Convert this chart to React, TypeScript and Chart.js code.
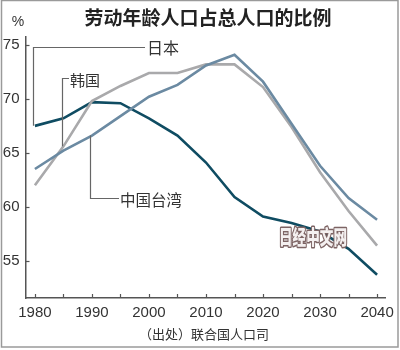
import React, { useEffect, useRef } from "react";
import { Chart, registerables } from "chart.js";

Chart.register(...registerables);

const years = [1980, 1985, 1990, 1995, 2000, 2005, 2010, 2015, 2020, 2025, 2030, 2035, 2040];
const japan = [67.5, 68.2, 69.7, 69.6, 68.2, 66.6, 64.1, 60.9, 59.1, 58.5, 57.7, 56.1, 53.7];
const korea = [62.0, 65.6, 69.8, 71.2, 72.4, 72.4, 73.2, 73.2, 71.1, 67.4, 63.2, 59.6, 56.4];
const taiwan = [63.5, 65.2, 66.6, 68.4, 70.2, 71.3, 73.1, 74.1, 71.6, 67.7, 63.8, 60.8, 58.8];
const yTicks = [55, 60, 65, 70, 75];
const xLabels = [1980, 1990, 2000, 2010, 2020, 2030, 2040];

const title = "劳动年龄人口占总人口的比例";
const source = "（出处）联合国人口司";
const watermark = "日经中文网";
const labelJapan = "日本";
const labelKorea = "韩国";
const labelTaiwan = "中国台湾";

const NUM_FONT = "'Liberation Sans Narrow', 'Liberation Sans', sans-serif";
const CJK_FONT = "'Noto Sans CJK SC', sans-serif";

const overlay = {
  id: "overlay",
  afterDatasetsDraw(chart: any) {
    const { ctx, scales } = chart;
    const x = scales.x;
    const y = scales.y;
    const area = chart.chartArea;
    ctx.save();
    // axis ticks (inward)
    ctx.strokeStyle = "#555";
    ctx.lineWidth = 1.2;
    for (let yr = 1980; yr <= 2040; yr += 5) {
      const px = Math.round(x.getPixelForValue(yr)) + 0.5;
      ctx.beginPath();
      ctx.moveTo(px, area.bottom);
      ctx.lineTo(px, area.bottom - 4);
      ctx.stroke();
    }
    yTicks.forEach((v) => {
      const py = Math.round(y.getPixelForValue(v)) + 0.5;
      ctx.beginPath();
      ctx.moveTo(area.left, py);
      ctx.lineTo(area.left + 4, py);
      ctx.stroke();
    });

    // annotation leader lines
    ctx.strokeStyle = "#666";
    ctx.lineWidth = 1.2;
    const jx = Math.round(x.getPixelForValue(years[0]) - 1.5) + 0.5;
    const jy = y.getPixelForValue(japan[0]);
    ctx.beginPath();
    ctx.moveTo(jx, jy);
    ctx.lineTo(jx, 47.5);
    ctx.lineTo(145, 47.5);
    ctx.stroke();

    const kx = Math.round(x.getPixelForValue(years[1]) - 1.5) + 0.5;
    const ky = y.getPixelForValue(korea[1]);
    ctx.beginPath();
    ctx.moveTo(kx, ky);
    ctx.lineTo(kx, 78.5);
    ctx.lineTo(69, 78.5);
    ctx.stroke();

    const tx = Math.round(x.getPixelForValue(years[2]) - 1.5) + 0.5;
    const ty = y.getPixelForValue(taiwan[2]);
    ctx.beginPath();
    ctx.moveTo(tx, ty);
    ctx.lineTo(tx, 198.5);
    ctx.lineTo(119, 198.5);
    ctx.stroke();

    ctx.fillStyle = "#333";
    ctx.textBaseline = "middle";
    ctx.textAlign = "left";
    ctx.font = `16px ${CJK_FONT}`;
    ctx.fillText(labelJapan, 147, 48);
    ctx.font = `15px ${CJK_FONT}`;
    ctx.fillText(labelKorea, 70, 80);
    ctx.font = `15.5px ${CJK_FONT}`;
    ctx.fillText(labelTaiwan, 120, 200);
    ctx.restore();
  },
  afterDraw(chart: any) {
    const { ctx } = chart;
    ctx.save();
    // title
    ctx.fillStyle = "#222";
    ctx.textAlign = "center";
    ctx.textBaseline = "middle";
    ctx.font = `bold 19px ${CJK_FONT}`;
    ctx.fillText(title, 208, 18);
    // percent sign
    ctx.font = `14px ${NUM_FONT}`;
    ctx.fillStyle = "#333";
    ctx.fillText("%", 18, 22);
    // source
    ctx.font = `13px ${CJK_FONT}`;
    ctx.fillStyle = "#333";
    ctx.fillText(source, 204, 334);
    // watermark
    ctx.save();
    ctx.translate(313, 237);
    ctx.scale(0.68, 1);
    ctx.font = `900 20px ${CJK_FONT}`;
    ctx.lineJoin = "round";
    ctx.lineWidth = 3;
    ctx.strokeStyle = "#7d6464";
    ctx.strokeText(watermark, 0, 0);
    ctx.fillStyle = "#f4f0f0";
    ctx.fillText(watermark, 0, 0);
    ctx.restore();
    // border
    ctx.strokeStyle = "#9a9a9a";
    ctx.lineWidth = 1.5;
    ctx.strokeRect(1.5, 0.5, 396.5, 346.5);
    ctx.restore();
  },
};

export default function App() {
  const ref = useRef<HTMLCanvasElement>(null);
  useEffect(() => {
    if (!ref.current) return;
    const mk = (vals: number[]) => years.map((yr, i) => ({ x: yr, y: vals[i] }));
    const chart = new Chart(ref.current, {
      type: "line",
      data: {
        datasets: [
          { label: labelTaiwan, data: mk(taiwan), borderColor: "#6b8aa2", order: 0 },
          { label: labelKorea, data: mk(korea), borderColor: "#a9a9ab", order: 1 },
          { label: labelJapan, data: mk(japan), borderColor: "#0f4c62", order: 2 },
        ],
      },
      options: {
        animation: false,
        responsive: false,
        devicePixelRatio: 1,
        layout: { padding: { left: 0, right: 10, top: 37, bottom: 0 } },
        elements: {
          point: { radius: 0 },
          line: { borderWidth: 2.6, tension: 0, fill: false, borderCapStyle: "butt", borderJoinStyle: "miter" },
        },
        plugins: { legend: { display: false }, tooltip: { enabled: false }, title: { display: false } },
        scales: {
          x: {
            type: "linear",
            min: 1978.35,
            max: 2041.55,
            afterFit: (s: any) => {
              s.height = 52;
            },
            grid: { drawOnChartArea: false, drawTicks: false },
            border: { display: true, color: "#555", width: 1.5 },
            ticks: {
              stepSize: 5,
              includeBounds: false,
              autoSkip: false,
              maxRotation: 0,
              padding: 6,
              color: "#333",
              font: { family: NUM_FONT, size: 15 },
              callback: (v: any) => (xLabels.includes(Number(v)) ? String(v) : ""),
            },
          },
          y: {
            type: "linear",
            min: 51.54,
            max: 75.74,
            afterFit: (s: any) => {
              s.width = 25.5;
            },
            grid: { drawOnChartArea: false, drawTicks: false },
            border: { display: true, color: "#555", width: 1.5 },
            ticks: {
              stepSize: 5,
              includeBounds: false,
              padding: 6,
              color: "#333",
              font: { family: NUM_FONT, size: 15 },
              callback: (v: any) => (yTicks.includes(Number(v)) ? String(v) : ""),
            },
          },
        },
      },
      plugins: [overlay],
    });
    return () => chart.destroy();
  }, []);
  return (
    <div style={{ position: "fixed", left: 0, top: 0, width: 400, height: 350, background: "#fff" }}>
      <canvas ref={ref} width={400} height={350} style={{ display: "block", width: 400, height: 350 }} />
    </div>
  );
}
